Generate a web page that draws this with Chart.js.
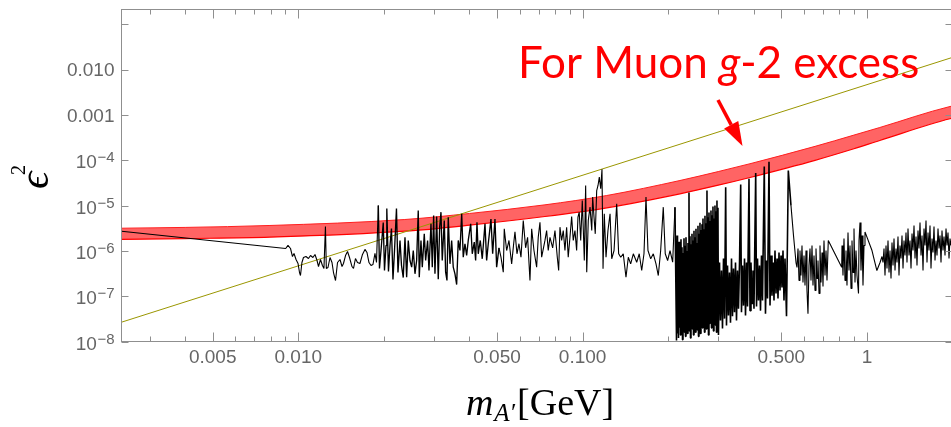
<!DOCTYPE html>
<html>
<head>
<meta charset="utf-8">
<script src="https://cdn.jsdelivr.net/npm/chart.js@4.4.1/dist/chart.umd.min.js"></script>
<style>
  html, body { margin: 0; padding: 0; background: #fff; overflow: hidden; width: 951px; height: 427px; }
  #chart { display: block; }
</style>
</head>
<body>
<canvas id="chart" width="960" height="427" style="width:960px;height:427px"></canvas>
<script>
// axis ranges (GeV, epsilon^2)
const xMin = 0.002389, xMax = 2.0;
const yMin = 1e-8, yMax = 0.2133;

// tick marks and labels
const xTickValues = [0.005, 0.01, 0.05, 0.1, 0.5, 1];
const xTickLabels = ['0.005', '0.010', '0.050', '0.100', '0.500', '1'];
const xMinorTicks = [0.003, 0.004, 0.006, 0.007, 0.008, 0.009, 0.02, 0.03, 0.04, 0.06, 0.07, 0.08, 0.09,
                     0.2, 0.3, 0.4, 0.6, 0.7, 0.8, 0.9, 2];
const yTickValues = [1e-8, 1e-7, 1e-6, 1e-5, 1e-4, 1e-3, 1e-2, 1e-1];
const yTickBase = ['10', '10', '10', '10', '10', '0.001', '0.010', ''];
const yTickExp = ['\u22128', '\u22127', '\u22126', '\u22125', '\u22124', '', '', ''];

// red band: muon g-2 preferred region
const bandMass  = [0.00239, 0.004, 0.00795, 0.0237, 0.04, 0.0737, 0.1216, 0.22, 0.30, 0.388, 0.657, 0.90, 1.11, 1.96, 2.05];
const bandUpper = [3.17e-6, 3.3e-6, 3.64e-6, 4.93e-6, 6.7e-6, 1.04e-5, 1.67e-5, 3.58e-5, 5.64e-5, 8.4e-5, 2.03e-4, 3.6e-4, 5.3e-4, 1.54e-3, 1.62e-3];
const bandLower = [1.79e-6, 1.87e-6, 2.01e-6, 2.72e-6, 3.7e-6, 5.74e-6, 8.94e-6, 1.82e-5, 2.82e-5, 4.18e-5, 1.0e-4, 1.8e-4, 2.74e-4, 8.25e-4, 8.7e-4];

// olive straight line
const oliveMass = [0.00239, 2.0];
const oliveEps2 = [2.67e-8, 1.87e-2];

// black limit curve [mass GeV, epsilon^2]
const blackCurve = [
  [0.00239, 2.72e-6], [0.00903, 1.13e-6], [0.00920, 1.32e-6], [0.00939, 1.13e-6], [0.00954, 7.52e-7],
  [0.00966, 8.78e-7], [0.00982, 6.46e-7], [0.00998, 5.27e-7], [0.01010, 3.33e-7], [0.01018, 2.86e-7],
  [0.01030, 5.54e-7], [0.01043, 7.15e-7], [0.01064, 7.52e-7], [0.01086, 6.79e-7], [0.01104, 7.91e-7],
  [0.01126, 7.15e-7], [0.01145, 8.34e-7], [0.01164, 6.14e-7], [0.01178, 4.52e-7], [0.01197, 6.46e-7],
  [0.01216, 4.76e-7], [0.01231, 4.09e-7], [0.01246, 3.46e-6], [0.01255, 4.09e-7], [0.01272, 4.30e-7],
  [0.01293, 7.15e-7], [0.01314, 5.54e-7], [0.01330, 3.33e-7], [0.01352, 2.22e-7], [0.01374, 5.54e-7],
  [0.01402, 6.46e-7], [0.01425, 4.52e-7], [0.01442, 5.27e-7], [0.01466, 7.91e-7], [0.01490, 9.72e-7],
  [0.01514, 7.15e-7], [0.01545, 4.52e-7], [0.01564, 4.09e-7], [0.01589, 6.79e-7], [0.01615, 5.54e-7],
  [0.01648, 5.27e-7], [0.01682, 8.34e-7], [0.01716, 1.08e-6], [0.01744, 9.24e-7], [0.01773, 5.54e-7],
  [0.01802, 4.76e-7], [0.01831, 5.01e-7], [0.01861, 8.78e-7], [0.01884, 5.54e-7], [0.01912, 1.00e-5],
  [0.01930, 4.09e-7], [0.01954, 1.02e-6], [0.01990, 4.24e-6], [0.02010, 3.69e-7], [0.02035, 1.32e-6],
  [0.02048, 8.65e-6], [0.02076, 3.51e-7], [0.02102, 1.32e-6], [0.02127, 3.12e-6], [0.02153, 2.33e-7],
  [0.02180, 1.02e-6], [0.02215, 8.65e-6], [0.02242, 3.33e-7], [0.02279, 1.70e-6], [0.02307, 4.76e-7],
  [0.02340, 2.58e-7],
  // 0.024 - 0.072
  [0.02373, 2.0e-6], [0.02405, 2.62e-7], [0.02437, 1.70e-6], [0.02471, 6.14e-7], [0.02505, 4.37e-7],
  [0.02538, 1.02e-6], [0.02573, 3.12e-7], [0.02608, 6.14e-7], [0.02642, 7.80e-6], [0.02664, 2.62e-7],
  [0.02701, 1.70e-6], [0.02730, 4.37e-7], [0.02774, 2.38e-6], [0.02805, 6.14e-7], [0.02850, 1.70e-6],
  [0.02882, 3.69e-7], [0.02929, 3.97e-6], [0.02960, 4.37e-7], [0.02993, 6.05e-6], [0.03025, 3.12e-7],
  [0.03067, 5.75e-6], [0.03107, 2.38e-7], [0.03142, 3.34e-6], [0.03176, 7.16e-6], [0.03209, 6.14e-7],
  [0.03262, 4.69e-6], [0.03298, 3.39e-7], [0.03334, 2.22e-7], [0.03369, 5.54e-6], [0.03416, 5.18e-7],
  [0.03463, 1.70e-6], [0.03508, 4.37e-7], [0.03557, 3.12e-7], [0.03606, 1.81e-7], [0.03653, 1.70e-6],
  [0.03704, 1.02e-6], [0.03756, 6.60e-6], [0.03804, 7.26e-7], [0.03857, 1.44e-6], [0.03910, 7.91e-7],
  [0.03961, 1.70e-6], [0.04040, 3.97e-6], [0.04092, 8.64e-7], [0.04159, 1.56e-6], [0.04205, 6.14e-7],
  [0.04251, 4.30e-6], [0.04295, 8.64e-7], [0.04366, 1.70e-6], [0.04437, 6.69e-7], [0.04536, 3.97e-6],
  [0.04597, 6.14e-7], [0.04658, 1.44e-6], [0.04761, 5.03e-6], [0.04827, 8.64e-7], [0.04918, 5.03e-6],
  [0.04985, 4.37e-7], [0.05080, 1.17e-6], [0.05163, 7.26e-7], [0.05260, 3.39e-7], [0.05302, 3.07e-6],
  [0.05406, 1.02e-6], [0.05509, 1.70e-6], [0.05630, 5.18e-7], [0.05722, 1.44e-6], [0.05783, 2.63e-6],
  [0.05877, 8.64e-7], [0.05973, 1.44e-6], [0.06071, 7.26e-7], [0.06184, 4.69e-6], [0.06304, 1.17e-6],
  [0.06405, 2.0e-6], [0.06530, 2.22e-7], [0.06620, 3.07e-6], [0.06745, 1.02e-6], [0.06892, 4.37e-7],
  [0.06982, 2.0e-6], [0.07080, 4.30e-6], [0.07178, 7.26e-7],
  // 0.073 - 0.21
  [0.07373, 1.70e-6], [0.07473, 2.82e-6], [0.07571, 1.02e-6], [0.07678, 2.0e-6], [0.07847, 1.17e-6],
  [0.07995, 2.82e-6], [0.08147, 7.26e-7], [0.08238, 3.69e-7], [0.08325, 3.34e-6], [0.08440, 1.70e-6],
  [0.08550, 2.82e-6], [0.08669, 1.02e-6], [0.08787, 3.34e-6], [0.08902, 7.26e-7], [0.09027, 2.0e-6],
  [0.09152, 5.75e-6], [0.09271, 1.70e-6], [0.09400, 2.82e-6], [0.09528, 1.02e-6], [0.09631, 5.54e-6],
  [0.09731, 7.16e-6], [0.09848, 1.70e-6], [0.09975, 1.30e-5], [0.1006, 2.82e-6], [0.1014, 6.14e-7],
  [0.1025, 2.78e-5], [0.1034, 3.39e-7], [0.1047, 4.69e-6], [0.1062, 9.24e-6], [0.1077, 2.82e-6],
  [0.1085, 1.54e-5], [0.1097, 5.54e-6], [0.1108, 2.38e-6], [0.1121, 2.15e-5], [0.1133, 2.78e-5],
  [0.1145, 4.24e-5], [0.1158, 2.35e-5], [0.1170, 6.37e-5], [0.1180, 4.02e-7], [0.1192, 6.60e-6],
  [0.1209, 7.26e-7], [0.1228, 2.82e-6], [0.1249, 6.60e-6], [0.1266, 6.69e-7], [0.1290, 1.02e-6],
  [0.1318, 1.10e-5], [0.1339, 8.64e-7], [0.1362, 7.26e-7], [0.1390, 8.64e-7], [0.1421, 2.62e-7],
  [0.1448, 7.26e-7], [0.1476, 5.18e-7], [0.1508, 8.64e-7], [0.1550, 5.62e-7], [0.1582, 8.64e-7],
  [0.1614, 3.69e-7], [0.1644, 8.64e-7], [0.1671, 1.54e-5], [0.1698, 1.02e-6], [0.1736, 6.69e-7],
  [0.1773, 8.64e-7], [0.1812, 5.18e-7], [0.1846, 2.86e-7], [0.1882, 1.02e-6], [0.1922, 9.24e-6],
  [0.1953, 8.64e-7], [0.1991, 6.14e-7], [0.2030, 1.02e-6], [0.2074, 5.62e-7], [0.2113, 9.24e-6],
  // 0.21 - 0.30 dense
  [0.21394, 1.05e-8], [0.21481, 2.2e-6], [0.21568, 1.5e-8], [0.21655, 1.1e-6], [0.21743, 1.2e-8],
  [0.21831, 1.6e-6], [0.21919, 2.0e-8], [0.22008, 8.0e-7], [0.22097, 1.4e-8], [0.22187, 1.8e-6],
  [0.22277, 1.8e-8], [0.22367, 1.2e-6], [0.22458, 1.1e-8], [0.22549, 9.0e-7], [0.22640, 2.4e-8],
  [0.22732, 1.9e-6], [0.22824, 1.6e-8], [0.22917, 1.3e-6], [0.23009, 1.3e-8], [0.23103, 2.0e-6],
  [0.23196, 2.1e-8], [0.23290, 1.0e-6], [0.23385, 1.5e-8], [0.23479, 1.5e-6], [0.23575, 2.8e-8],
  [0.23670, 1.95e-5], [0.23766, 1.7e-8], [0.23863, 2.1e-6], [0.23959, 1.2e-8], [0.24056, 1.4e-6],
  [0.24154, 2.3e-8], [0.24252, 2.4e-6], [0.24350, 1.9e-8], [0.24449, 1.7e-6], [0.24548, 1.4e-8],
  [0.24647, 2.8e-6], [0.24747, 2.6e-8], [0.24848, 2.0e-6], [0.24948, 1.6e-8], [0.25049, 3.1e-6],
  [0.25151, 3.0e-8], [0.25253, 1.5e-6], [0.25355, 1.8e-8], [0.25458, 3.6e-6], [0.25561, 1.3e-8],
  [0.25665, 2.4e-6], [0.25769, 2.2e-8], [0.25873, 4.2e-6], [0.25978, 1.5e-8], [0.26084, 2.9e-6],
  [0.26189, 2.7e-8], [0.26295, 3.9e-6], [0.26402, 2.0e-8], [0.26509, 5.2e-6], [0.26617, 3.2e-8],
  [0.26725, 3.0e-6], [0.26833, 1.6e-8], [0.26942, 6.0e-6], [0.27051, 2.4e-8], [0.27161, 4.1e-6],
  [0.27271, 1.9e-8], [0.27381, 2.15e-5], [0.27492, 2.9e-8], [0.27604, 5.5e-6], [0.27716, 1.4e-8],
  [0.27828, 7.0e-6], [0.27941, 2.5e-8], [0.28054, 4.6e-6], [0.28168, 3.5e-8], [0.28282, 7.8e-6],
  [0.28397, 2.0e-8], [0.28512, 6.1e-6], [0.28627, 2.8e-8], [0.28743, 9.6e-6], [0.28860, 1.7e-8],
  [0.28977, 5.2e-6], [0.29094, 3.1e-8], [0.29212, 1.0e-5], [0.29331, 2.3e-8], [0.29450, 7.5e-6],
  [0.29569, 1.6e-8], [0.29689, 1.3e-5], [0.29809, 2.6e-8], [0.29930, 9.0e-6], [0.30051, 1.4e-8],
  // 0.30 - 0.56
  [0.3031, 5.54e-7], [0.3055, 2.9e-8], [0.3080, 3.69e-7], [0.3105, 1.94e-8], [0.3130, 6.79e-7],
  [0.3156, 3.2e-8], [0.3186, 2.55e-5], [0.3207, 2.26e-8], [0.3234, 4.76e-7], [0.3259, 3.75e-8],
  [0.3286, 3.33e-7], [0.3313, 2.6e-8], [0.3340, 6.79e-7], [0.3367, 3.6e-8], [0.3394, 4.09e-7],
  [0.3422, 4.4e-8], [0.3450, 5.54e-7], [0.3478, 2.9e-8], [0.3506, 3.69e-7], [0.3534, 5.3e-8],
  [0.3564, 5.54e-7], [0.3598, 2.93e-5], [0.3621, 4.4e-8], [0.3651, 4.76e-7], [0.3681, 6.2e-8],
  [0.3711, 6.79e-7], [0.3741, 3.75e-8], [0.3771, 5.54e-7], [0.3802, 5.9e-8], [0.3848, 3.93e-5],
  [0.3880, 4.8e-8], [0.3911, 5.54e-7], [0.3943, 6.9e-8], [0.3975, 3.69e-7], [0.4007, 5.3e-8],
  [0.4063, 5.23e-5], [0.4090, 5.9e-8], [0.4123, 6.79e-7], [0.4156, 8.0e-8], [0.4190, 4.76e-7],
  [0.4224, 4.8e-8], [0.4258, 7.91e-7], [0.4293, 8.0e-8], [0.4355, 7.30e-5], [0.4398, 4.1e-8],
  [0.4435, 6.14e-7], [0.4471, 8.9e-8], [0.4525, 9.3e-5], [0.4562, 6.2e-8], [0.4599, 7.91e-7],
  [0.4636, 1.03e-7], [0.4674, 5.54e-7], [0.4712, 8.0e-8], [0.4750, 1.02e-6], [0.4789, 1.15e-7],
  [0.4828, 6.79e-7], [0.4867, 8.9e-8], [0.4907, 9.24e-7], [0.4947, 1.34e-7], [0.4987, 7.91e-7],
  [0.5027, 1.55e-7], [0.5068, 1.02e-6], [0.5109, 8.0e-8], [0.5151, 6.79e-7], [0.5214, 3.6e-8],
  [0.5291, 5.96e-5], [0.5407, 1.0e-5], [0.5518, 2.19e-6], [0.5631, 5.54e-7],
  // 0.56 - 0.99
  [0.5677, 4.30e-7], [0.5723, 1.13e-6], [0.5770, 2.22e-7], [0.5816, 1.02e-6], [0.5863, 2.86e-7],
  [0.5911, 1.32e-6], [0.5959, 2.0e-7], [0.6008, 7.91e-7], [0.6057, 1.72e-7], [0.6106, 1.02e-6],
  [0.6155, 1.34e-7], [0.6205, 4.1e-8], [0.6256, 4.76e-7], [0.6307, 1.13e-6], [0.6358, 2.22e-7],
  [0.6410, 1.32e-6], [0.6462, 1.72e-7], [0.6515, 7.91e-7], [0.6568, 1.34e-7], [0.6621, 1.13e-6],
  [0.6675, 2.46e-7], [0.6729, 6.14e-7], [0.6784, 1.15e-7], [0.6839, 1.32e-6], [0.6895, 2.0e-7],
  [0.6951, 9.24e-7], [0.7007, 1.63e-7], [0.7064, 1.70e-6], [0.7122, 2.86e-7], [0.7180, 1.02e-6],
  [0.7238, 2.22e-7], [0.7314, 1.70e-6], [0.8153, 4.37e-7],
  [0.8173, 1.32e-6], [0.8239, 2.86e-7], [0.8306, 1.88e-6], [0.8374, 2.22e-7], [0.8442, 1.02e-6],
  [0.8510, 1.72e-7], [0.8580, 2.55e-6], [0.8650, 3.69e-7], [0.8720, 1.32e-6], [0.8791, 1.48e-7],
  [0.8862, 1.70e-6], [0.8935, 3.33e-7], [0.9007, 3.12e-6], [0.9080, 2.0e-7], [0.9154, 1.02e-6],
  [0.9228, 2.86e-7], [0.9341, 1.15e-7], [0.9380, 1.70e-6], [0.9456, 4.24e-6], [0.9532, 3.69e-7],
  [0.9610, 2.19e-6], [0.9688, 1.72e-7], [0.9767, 1.32e-6], [0.9846, 2.63e-6],
  // 1.0 - 2.0
  [1.042, 1.02e-6], [1.084, 3.69e-7], [1.112, 5.54e-7], [1.130, 7.52e-7],
  [1.1393, 5.54e-7], [1.1485, 1.13e-6], [1.1578, 2.86e-7], [1.1673, 1.32e-6], [1.1767, 4.09e-7],
  [1.1863, 1.70e-6], [1.1960, 3.33e-7], [1.2057, 1.02e-6], [1.2155, 2.46e-7], [1.2253, 1.53e-6],
  [1.2354, 4.76e-7], [1.2454, 1.88e-6], [1.2555, 3.69e-7], [1.2657, 1.13e-6], [1.2760, 5.54e-7],
  [1.2863, 2.08e-6], [1.2968, 2.86e-7], [1.3074, 1.32e-6], [1.3180, 6.79e-7], [1.3287, 2.19e-6],
  [1.3396, 4.09e-7], [1.3504, 1.70e-6], [1.3614, 7.91e-7], [1.3725, 2.55e-6], [1.3836, 5.54e-7],
  [1.3949, 3.12e-6], [1.4063, 7.91e-7], [1.4177, 1.70e-6], [1.4292, 4.09e-7], [1.4408, 2.42e-6],
  [1.4526, 1.02e-6], [1.4644, 3.64e-6], [1.4763, 6.79e-7], [1.4883, 2.08e-6], [1.5003, 4.76e-7],
  [1.5125, 2.82e-6], [1.5249, 1.13e-6], [1.5373, 4.24e-6], [1.5498, 7.91e-7], [1.5624, 2.19e-6],
  [1.5751, 3.69e-7], [1.5879, 3.12e-6], [1.6008, 1.32e-6], [1.6138, 4.69e-6], [1.6269, 5.54e-7],
  [1.6402, 2.55e-6], [1.6535, 1.02e-6], [1.6670, 3.64e-6], [1.6805, 4.09e-7], [1.6942, 1.88e-6],
  [1.7079, 9.24e-7], [1.7218, 3.46e-6], [1.7358, 6.14e-7], [1.7499, 1.70e-6], [1.7642, 7.91e-7],
  [1.7785, 3.12e-6], [1.7930, 1.13e-6], [1.8076, 2.19e-6], [1.8222, 5.54e-7], [1.8370, 2.82e-6],
  [1.8520, 1.02e-6], [1.8670, 2.08e-6], [1.8823, 7.91e-7], [1.8976, 3.12e-6], [1.9130, 1.32e-6],
  [1.9285, 2.55e-6], [1.9443, 6.79e-7], [1.9601, 1.88e-6], [1.9760, 1.32e-6], [2.009, 1.70e-6]
];

const sansFont = '"Liberation Sans", Arial, sans-serif';
const serifFont = '"Liberation Serif", "Times New Roman", serif';
const labelFont = 'Lato, "Open Sans", sans-serif';

// frame, inward ticks, y labels, axis titles and annotation
const framePlugin = {
  id: 'frame',
  afterDraw(chart) {
    const ctx = chart.ctx;
    const a = chart.chartArea;
    const xs = chart.scales.x, ys = chart.scales.y;
    ctx.save();
    ctx.strokeStyle = '#8f8f8f';
    ctx.lineWidth = 1;
    ctx.strokeRect(a.left, a.top, a.right - a.left, a.bottom - a.top);
    ctx.beginPath();
    const xTick = (v, len) => {
      const px = Math.round(xs.getPixelForValue(v)) + 0.5;
      ctx.moveTo(px, a.bottom); ctx.lineTo(px, a.bottom - len);
      ctx.moveTo(px, a.top); ctx.lineTo(px, a.top + len);
    };
    xTickValues.forEach(v => xTick(v, 9));
    xMinorTicks.forEach(v => xTick(v, 5));
    yTickValues.forEach(v => {
      const py = Math.round(ys.getPixelForValue(v)) + 0.5;
      ctx.moveTo(a.left, py); ctx.lineTo(a.left + 7, py);
      ctx.moveTo(a.right, py); ctx.lineTo(a.right - 7, py);
    });
    ctx.stroke();

    // y tick labels with superscripts
    ctx.fillStyle = '#666';
    ctx.textAlign = 'right';
    ctx.textBaseline = 'alphabetic';
    yTickValues.forEach((v, i) => {
      if (!yTickBase[i]) return;
      const py = ys.getPixelForValue(v);
      let right = a.left - 7;
      if (yTickExp[i]) {
        ctx.font = '15px ' + sansFont;
        ctx.fillText(yTickExp[i], right, py + 2);
        right -= ctx.measureText(yTickExp[i]).width + 0.5;
        ctx.font = '19px ' + sansFont;
        ctx.fillText(yTickBase[i], right, py + 8);
      } else {
        ctx.font = '19px ' + sansFont;
        ctx.fillText(yTickBase[i], right, py + 6.5);
      }
    });

    // x axis title: m_A' [GeV]
    ctx.fillStyle = '#000';
    ctx.textAlign = 'left';
    const parts = [
      { t: 'm', f: 'italic 38px ' + serifFont, dy: 0, gap: 1 },
      { t: 'A\u2032', f: 'italic 25px ' + serifFont, dy: 6, gap: 2 },
      { t: '[GeV]', f: '38px ' + serifFont, dy: 0, gap: 0 }
    ];
    let total = 0;
    parts.forEach(p => { ctx.font = p.f; p.w = ctx.measureText(p.t).width; total += p.w + p.gap; });
    let tx = 540 - total / 2;
    parts.forEach(p => { ctx.font = p.f; ctx.fillText(p.t, tx, 415 + p.dy); tx += p.w + p.gap; });

    // y axis title: epsilon^2 (rotated)
    ctx.save();
    ctx.translate(48, 189);
    ctx.rotate(-Math.PI / 2);
    ctx.font = 'italic 43px ' + serifFont;
    ctx.fillText('\u03F5', 0, 0);
    ctx.font = '20px ' + serifFont;
    ctx.fillText('2', 14, -23);
    ctx.restore();

    // annotation
    ctx.fillStyle = '#ff0000';
    let ax = 518;
    const ay = 78;
    ctx.font = '44px ' + labelFont;
    ctx.fillText('For Muon ', ax, ay); ax += ctx.measureText('For Muon ').width;
    ctx.font = 'italic 44px ' + labelFont;
    ctx.fillText('g', ax, ay); ax += ctx.measureText('g').width;
    ctx.font = '44px ' + labelFont;
    ctx.fillText('-2 excess', ax, ay);

    // arrow
    const x0 = 718, y0 = 100, x1 = 742.5, y1 = 146;
    const ang = Math.atan2(y1 - y0, x1 - x0);
    const hl = 24, hw = 8;
    const bx = x1 - hl * Math.cos(ang), by = y1 - hl * Math.sin(ang);
    ctx.strokeStyle = '#ff0000';
    ctx.lineWidth = 3.5;
    ctx.beginPath();
    ctx.moveTo(x0, y0);
    ctx.lineTo(bx, by);
    ctx.stroke();
    ctx.beginPath();
    ctx.moveTo(x1, y1);
    ctx.lineTo(bx + hw * Math.sin(ang), by - hw * Math.cos(ang));
    ctx.lineTo(bx - hw * Math.sin(ang), by + hw * Math.cos(ang));
    ctx.closePath();
    ctx.fill();
    ctx.restore();
  }
};

const toPoints = (xs, ys) => xs.map((x, i) => ({ x: x, y: ys[i] }));

// dense stretches look heavier in the original
const blackWidth = ctx => {
  const m = ctx.p0.parsed.x;
  if (m > 0.21 && m < 0.53) return 1.6;
  if (m > 0.019 && m < 0.05) return 1.35;
  return 1.1;
};

new Chart(document.getElementById('chart'), {
  type: 'line',
  data: {
    datasets: [
      {
        data: blackCurve.map(p => ({ x: p[0], y: p[1] })),
        borderColor: '#000',
        borderWidth: 1.1,
        borderJoinStyle: 'bevel',
        segment: { borderWidth: blackWidth },
        pointRadius: 0,
        fill: false
      },
      {
        data: toPoints(oliveMass, oliveEps2),
        borderColor: '#9a9600',
        borderWidth: 1,
        pointRadius: 0,
        fill: false
      },
      {
        data: toPoints(bandMass, bandLower),
        borderColor: '#ff0000',
        borderWidth: 1.2,
        pointRadius: 0,
        cubicInterpolationMode: 'monotone',
        fill: false
      },
      {
        data: toPoints(bandMass, bandUpper),
        borderColor: '#ff2020',
        borderWidth: 1,
        pointRadius: 0,
        cubicInterpolationMode: 'monotone',
        backgroundColor: '#ff6464',
        fill: '-1'
      }
    ]
  },
  options: {
    responsive: false,
    animation: false,
    devicePixelRatio: 1,
    layout: { padding: { top: 9.5, right: 7.5, left: 0, bottom: 0 } },
    plugins: { legend: { display: false }, tooltip: { enabled: false } },
    scales: {
      x: {
        type: 'logarithmic',
        min: xMin,
        max: xMax,
        grid: { display: false, drawTicks: false },
        border: { display: false },
        afterBuildTicks: scale => { scale.ticks = xTickValues.map(v => ({ value: v })); },
        afterFit: scale => { scale.height = 85.5; },
        ticks: {
          autoSkip: false,
          maxRotation: 0,
          minRotation: 0,
          padding: 5,
          color: '#666',
          font: { family: sansFont, size: 19 },
          callback: (v, i) => xTickLabels[i]
        }
      },
      y: {
        type: 'logarithmic',
        min: yMin,
        max: yMax,
        grid: { display: false, drawTicks: false },
        border: { display: false },
        afterFit: scale => { scale.width = 121.5; },
        ticks: { display: false }
      }
    }
  },
  plugins: [framePlugin]
});
</script>
</body>
</html>
